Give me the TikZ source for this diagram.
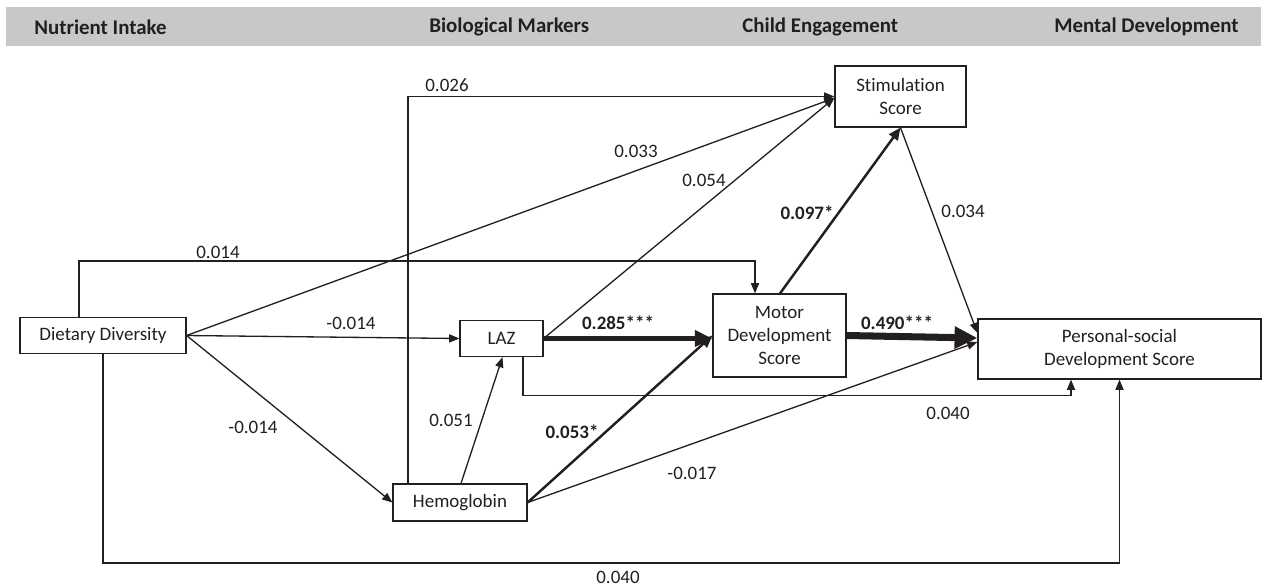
\documentclass[tikz,border=0pt]{standalone}
\usepackage{fontspec}
\setmainfont{Carlito}[Ligatures={NoCommon}]
\usetikzlibrary{arrows.meta}
\definecolor{ink}{HTML}{231F20}
\definecolor{bar}{HTML}{C8C8CA}
\begin{document}
\begin{tikzpicture}[x=0.02cm,y=-0.02cm,
  box/.style={draw=ink,line width=0.7pt,inner sep=0pt,align=center,text=ink,
    font=\fontsize{10.8}{12.9}\selectfont},
  lbl/.style={text=ink,inner sep=0pt,font=\fontsize{10.8}{12.9}\selectfont},
  blbl/.style={text=ink,inner sep=0pt,font=\fontsize{10.8}{12.9}\selectfont\bfseries},
  hdr/.style={text=ink,inner sep=0pt,anchor=west,font=\fontsize{11.9}{13}\selectfont\bfseries},
  thin/.style={draw=ink,line width=0.75pt,-{Triangle[length=5.8pt,width=4.6pt]}},
  mid/.style={draw=ink,line width=1.4pt,-{Triangle[length=7pt,width=6pt]}},
  thick/.style={draw=ink,line width=2.8pt,-{Triangle[length=10pt,width=9pt]}},
  heavy/.style={draw=ink,line width=4pt,-{Triangle[length=13pt,width=12pt]}}]
\useasboundingbox (0,0) rectangle (1264,586);
% header
\fill[bar] (6,7) rectangle (1261,46);
\node[hdr] (h1) at (34,27) {Nutrient Intake};
\node[hdr] (h2) at (429,27) {Biological Markers};
\node[hdr] (h3) at (742,27) {Child Engagement};
\node[hdr] (h4) at (1054,27) {Mental Development};
% nodes
\node[box,minimum width=3.32cm,minimum height=0.73cm] (dd) at (103,335.5) {Dietary Diversity};
\node[box,minimum width=1.66cm,minimum height=0.72cm] (laz) at (501.5,338.5) {LAZ};
\node[box,minimum width=2.68cm,minimum height=0.74cm] (hemo) at (460,502.5) {Hemoglobin};
\node[box,minimum width=2.66cm,minimum height=1.66cm] (mot) at (779.5,335.5) {Motor\\Development\\Score};
\node[box,minimum width=2.62cm,minimum height=1.22cm] (stim) at (900.5,96.5) {Stimulation\\Score};
\node[box,minimum width=5.66cm,minimum height=1.2cm] (psds) at (1119.5,349) {Personal-social\\Development Score};
% connectors
\draw[thin] ([xshift=-0.48cm]dd.north) -- ++(0,-55.5) -| ([xshift=-0.49cm]mot.north);
\draw[thin] (dd.east) -- (laz.west);
\draw[thin] (dd.east) -- (hemo.west);
\draw[thin] (dd.east) -- ([yshift=-0.03cm]stim.west);
\draw[thin] (dd.south) -- ++(0,208.5) -| (psds.south);
\draw[thin] ([xshift=-1.04cm]hemo.north) |- (stim.west);
\draw[thin] ([xshift=0.02cm]hemo.north) -- ([xshift=0.02cm]laz.south);
\draw[mid] (hemo.east) -- (mot.west);
\draw[thin] (hemo.east) -- ([yshift=0.14cm]psds.west);
\draw[thick] (laz.east) -- ([yshift=-0.06cm]mot.west);
\draw[thin] (laz.east) -- ([yshift=-0.03cm]stim.west);
\draw[thin] ([xshift=0.43cm]laz.south) -- ++(0,38.5) -| ([xshift=-0.97cm]psds.south);
\draw[mid] ([xshift=0.01cm]mot.north) -- (stim.south);
\draw[thin] (stim.south) -- ([yshift=0.32cm]psds.west);
\draw[heavy] (mot.east) -- ([yshift=0.22cm]psds.west);
% labels
\node[lbl] (l1) at (218,252) {0.014};
\node[lbl] (l2) at (351,323) {-0.014};
\node[lbl] (l3) at (253,427) {-0.014};
\node[lbl] (l4) at (636,151) {0.033};
\node[lbl] (l5) at (618,577) {0.040};
\node[lbl] (l6) at (447,85) {0.026};
\node[lbl] (l7) at (451,420) {0.051};
\node[blbl] (l8) at (572,432) {0.053*};
\node[lbl] (l9) at (692,473) {-0.017};
\node[blbl] (l10) at (618,323) {0.285***};
\node[lbl] (l11) at (704,180) {0.054};
\node[lbl] (l12) at (948,413) {0.040};
\node[blbl] (l13) at (807,213) {0.097*};
\node[lbl] (l14) at (963,211) {0.034};
\node[blbl] (l15) at (897,323) {0.490***};
\end{tikzpicture}
\end{document}
